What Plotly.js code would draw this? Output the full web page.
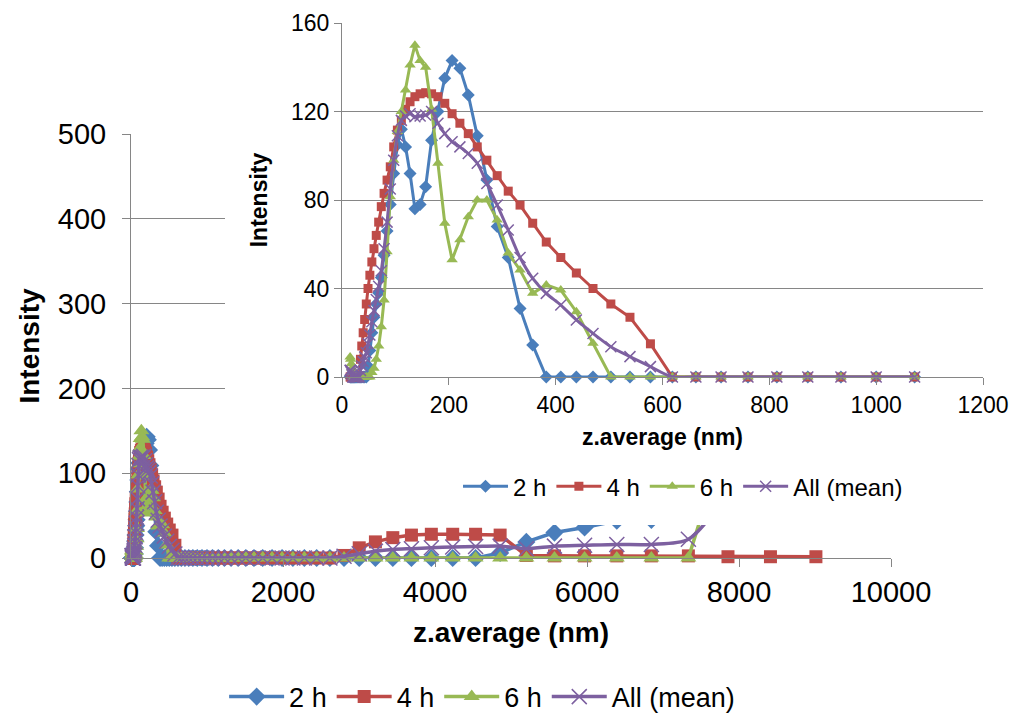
<!DOCTYPE html>
<html>
<head>
<meta charset="utf-8">
<script src="https://cdn.plot.ly/plotly-3.0.1.min.js"></script>
<style>
  html, body { margin: 0; padding: 0; background: #fff; }
  #wrap { position: relative; width: 1014px; height: 713px; overflow: hidden; }
  #main { position: absolute; left: 0; top: 0; width: 1014px; height: 760px; }
  #inset { position: absolute; left: 225px; top: 0; width: 789px; height: 525px; background: #fff; }
</style>
</head>
<body>
<div id="wrap"><div id="main"></div><div id="inset"></div></div>
<script>
// z.average (nm) bins
const sizes = [15.15,16.23,17.38,18.62,19.94,21.36,22.88,24.51,26.25,28.11,30.11,32.25,34.55,37.0,39.64,42.46,45.47,48.71,52.17,55.88,
  59.86,64.11,68.67,73.55,78.78,84.38,90.38,96.81,103.7,111.1,119.0,127.4,136.5,146.2,156.6,167.7,179.6,192.4,206.1,220.7,
  236.4,253.2,271.2,290.5,311.2,333.3,357.0,382.4,409.6,438.7,469.9,503.3,539.1,577.4,618.5,662.5,709.6,760.0,814.1,872.0,
  934.0,1000,1072,1148,1229,1317,1410,1511,1618,1733,1856,1988,2130,2281,2443,2617,2803,3003,3216,3445,
  3690,3952,4233,4534,4857,5202,5572,5968,6392,6847,7334,7855,8414,9012];

const int2h = [0,0,0,0,0,0,0,0,0,0,0,0,0,0,0,0,0,5,12,20,
  27,33,38,45,55,66,78,92,105,112,104,92,76,78,86,107,120,135,143,139.5,
  127.5,109,89,68,54,31,14.5,0,0,0,0,0,0,0,0,0,0,0,0,0,
  0,0,0,0,0,0,0,0,0,0,0,0,0,0,0,0,0,0,0,0,
  0,0,0,0,6,19,30,36,44,45,63,80,null,null];

const int4h = [0,0,0,0,0,0,0,0,0,0,0,0,8,14,20,26,33,40,46,52,
  58,64,70,77,83,89,95,104,111.6,116,121,124.4,126.7,128,128.5,128,126.7,123.7,119,114.7,
  110,104,98,91,84,77.7,69.5,61,54,47,40,33,27,15,0,0,0,0,0,0,
  0,0,0,0,0,0,0,0,0,0,0,0,0,0,0,0,3,12,19,24,
  27,28,28,28,27,3,2.5,2.5,2.5,2.5,2.5,1.5,1.5,1.5];

const int6h = [9,8,6,4,2,0,0,0,0,0,0,0,0,0,0,0,0,0,0,2,
  4,8,14,22.7,34.8,56.6,81.5,98,111,120,129.7,141,150,143,140,121,96.6,69.5,53,62,
  72.4,80,80,71,56,48.4,37.8,41.6,39.3,29.5,15.2,0,0,0,0,0,0,0,0,0,
  0,0,0,0,0,0,0,0,0,0,0,0,0,0,0,0,0,0,0,0,
  0,0,0,0,0,0,0,0,0,0,0,150,null,null];

const intMean = [3,3,2,1,0,0,0,0,0,0,0,0,3,5,7,9,11,15,19,25,
  30,35,41,48,58,70,85,98,109,116,118,119,117.6,118,118.4,120,114.7,110,106.3,104,
  101,96.6,87.5,77.7,66.4,54,44.6,37.8,32.5,25.8,19.7,13.7,9.2,4.7,0,0,0,0,0,0,
  0,0,0,0,0,0,0,0,0,0,0,0,0,0,0,0,2,5,8,10,
  11,12,13,13.5,14,11,14,15,16,16,22,77,null,null];

const seriesNames = ['2 h', '4 h', '6 h', 'All (mean)'];
const insetMax = 1200;   // inset x axis shows only the bins below this size
const insetCount = sizes.filter(v => v <= 1100).length;

const colors = ['#4A7EBB', '#BE4B48', '#98B954', '#7D60A0'];
const symbols = ['diamond', 'square', 'triangle-up', 'x-thin'];
const allY = [int2h, int4h, int6h, intMean];

function makeTraces(n, msize, lw) {
  return allY.map((ys, k) => ({
    type: 'scatter', mode: 'lines+markers', name: seriesNames[k],
    x: sizes.slice(0, n), y: ys.slice(0, n),
    cliponaxis: false,
    line: { color: colors[k], width: lw, shape: k === 3 ? 'spline' : 'linear', smoothing: 0.8 },
    marker: k === 3
      ? { symbol: 'x-thin', size: msize + 1, color: colors[k], line: { color: colors[k], width: 1.5 } }
      : { symbol: symbols[k], size: k === 1 ? msize - 1 : msize, color: colors[k], line: { width: 0 } }
  }));
}

const FONT = 'Liberation Sans, Arial, sans-serif';
const GRID = '#868686';

Plotly.newPlot('main', makeTraces(sizes.length, 14, 3.5), {
  width: 1014, height: 760,
  margin: { l: 131, r: 123, t: 134, b: 202 },
  paper_bgcolor: '#fff', plot_bgcolor: '#fff',
  font: { family: FONT, color: '#000' },
  showlegend: true,
  legend: { orientation: 'h', x: 0.462, xanchor: 'center', y: -0.328, yanchor: 'middle',
            font: { size: 27, family: FONT }, itemwidth: 55, tracegroupgap: 0 },
  xaxis: { range: [0, 10000], tick0: 0, dtick: 2000, tickformat: 'd', showline: true, linecolor: GRID, linewidth: 1,
           ticks: 'outside', ticklen: 8, tickcolor: GRID, showgrid: false, zeroline: false,
           tickfont: { size: 29, family: FONT }, automargin: false,
           title: { text: '<b>z.average (nm)</b>', font: { size: 28, family: FONT }, standoff: 15 } },
  yaxis: { range: [0, 500], tick0: 0, dtick: 100, showline: true, linecolor: GRID, linewidth: 1,
           ticks: 'outside', ticklen: 8, tickcolor: GRID, showgrid: true, gridcolor: GRID, zeroline: false,
           tickfont: { size: 29, family: FONT }, automargin: false, ticklabelstandoff: 10,
           title: { text: '<b>Intensity</b>', font: { size: 28, family: FONT }, standoff: 10 } }
}, { displayModeBar: false, staticPlot: true });

Plotly.newPlot('inset', makeTraces(insetCount, 10, 3), {
  width: 789, height: 525,
  margin: { l: 117, r: 31, t: 23, b: 148 },
  paper_bgcolor: '#fff', plot_bgcolor: '#fff',
  font: { family: FONT, color: '#000' },
  showlegend: true,
  legend: { orientation: 'h', x: 0.532, xanchor: 'center', y: -0.31, yanchor: 'middle',
            font: { size: 24, family: FONT }, itemwidth: 45 },
  xaxis: { range: [0, insetMax], tick0: 0, dtick: 200, tickformat: 'd', showline: true, linecolor: GRID, linewidth: 1,
           ticks: 'outside', ticklen: 7, tickcolor: GRID, showgrid: false, zeroline: false,
           tickfont: { size: 23, family: FONT }, automargin: false,
           title: { text: '<b>z.average (nm)</b>', font: { size: 23, family: FONT }, standoff: 12 } },
  yaxis: { range: [0, 160], tick0: 0, dtick: 40, showline: true, linecolor: GRID, linewidth: 1,
           ticks: 'outside', ticklen: 7, tickcolor: GRID, showgrid: true, gridcolor: GRID, zeroline: false,
           tickfont: { size: 23, family: FONT }, automargin: false,
           title: { text: '<b>Intensity</b>', font: { size: 23, family: FONT }, standoff: 16 } }
}, { displayModeBar: false, staticPlot: true });
</script>
</body>
</html>
